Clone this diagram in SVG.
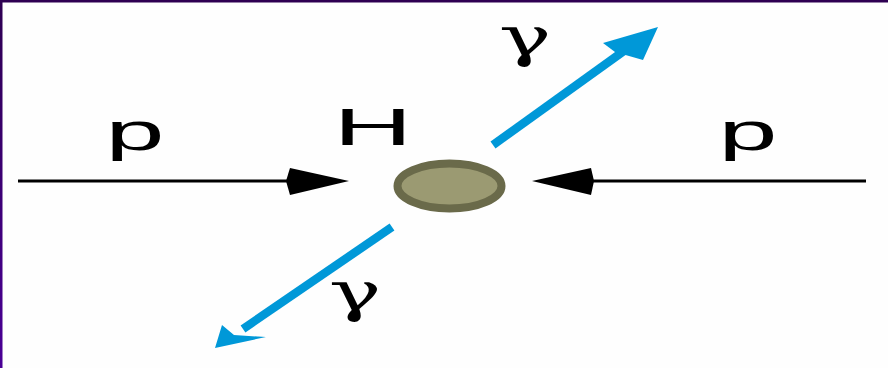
<svg xmlns="http://www.w3.org/2000/svg" width="888" height="368" viewBox="0 0 888 368">
  <defs>
    <linearGradient id="leftBorder" x1="0" y1="0" x2="0" y2="1">
      <stop offset="0" stop-color="#2e0052"/>
      <stop offset="1" stop-color="#4a0096"/>
    </linearGradient>
  </defs>
  <style>
    .lbl { font-family: "Liberation Sans", Arial, sans-serif; fill: #000; }
    .gam { font-family: "DejaVu Serif", "Liberation Serif", serif; fill: #000; }
    .beam { stroke: #000; stroke-width: 3; fill: none; }
    .head { fill: #000; }
    .photon { stroke: #0098d8; stroke-width: 8.5; fill: none; stroke-linecap: butt; }
    .phead { fill: #0098d8; }
  </style>
  <rect x="0" y="0" width="888" height="368" fill="#fefefe"/>
  <rect x="0" y="0" width="888" height="2.5" fill="#2e0052"/>
  <rect x="0" y="0" width="2.5" height="368" fill="url(#leftBorder)"/>

  <g id="connectors">
    <g id="beam-left">
      <line class="beam" x1="18" y1="181" x2="300" y2="181"/>
      <polygon class="head" points="349,181 290,168 286,181 290,195"/>
    </g>
    <g id="beam-right">
      <line class="beam" x1="866" y1="181" x2="585" y2="181"/>
      <polygon class="head" points="532,181 591,168 594,181 591,195"/>
    </g>
    <g id="photon-up">
      <line class="photon" x1="493" y1="145" x2="628" y2="48"/>
      <polygon class="phead" points="658,27 603,43 615,52 643,60"/>
    </g>
    <g id="photon-down">
      <line class="photon" x1="392" y1="227" x2="243" y2="329"/>
      <polygon class="phead" points="215,348 222,325 234,335 266,337"/>
    </g>
  </g>

  <g id="higgs">
    <ellipse cx="449.5" cy="186" rx="52" ry="22.5" fill="#9b9a72" stroke="#6a6a4a" stroke-width="8"/>
    <text class="lbl" transform="translate(373,145) scale(2.1,1)" text-anchor="middle" font-size="52">H</text>
  </g>
  <g id="proton-left">
    <text class="lbl" transform="translate(135,150) scale(2,1)" text-anchor="middle" font-size="53">p</text>
  </g>
  <g id="proton-right">
    <text class="lbl" transform="translate(748,150) scale(2,1)" text-anchor="middle" font-size="53">p</text>
  </g>
  <g id="gamma-up">
    <text class="gam" transform="translate(525,56) scale(1.6,1)" text-anchor="middle" font-size="55">γ</text>
  </g>
  <g id="gamma-down">
    <text class="gam" transform="translate(355,311) scale(1.6,1)" text-anchor="middle" font-size="55">γ</text>
  </g>
</svg>
